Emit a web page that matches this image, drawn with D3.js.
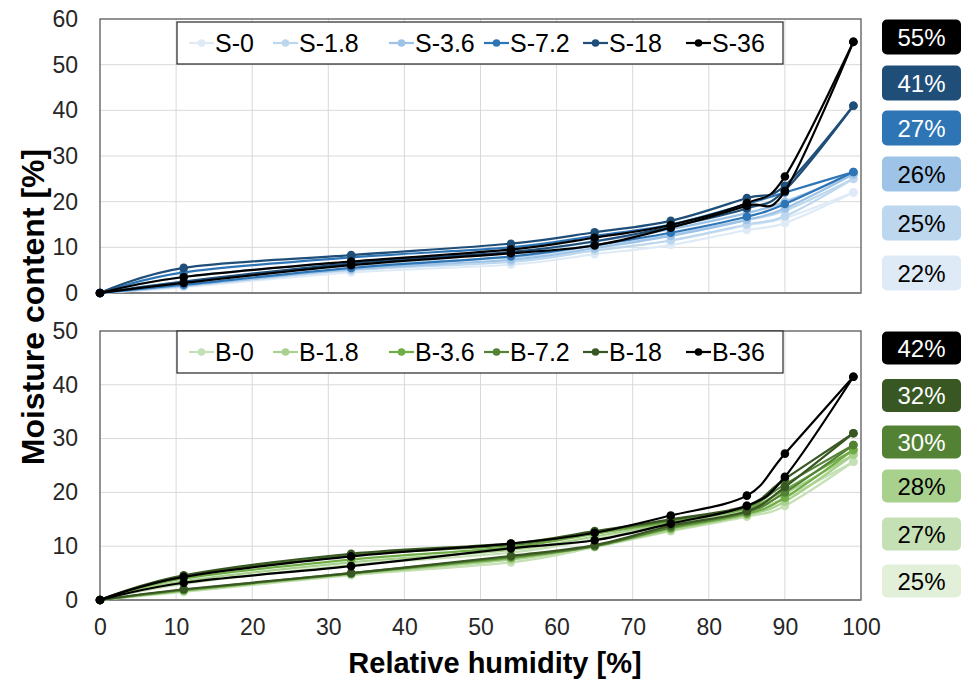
<!DOCTYPE html>
<html><head><meta charset="utf-8">
<script src="https://cdn.jsdelivr.net/npm/d3@7"></script>
<style>body{margin:0;background:#fff}svg{display:block;font-family:Arial,"Liberation Sans",sans-serif}</style>
</head><body><svg id="c" width="965" height="684"></svg>
<script>
const rh = [0, 11, 33, 54, 65, 75, 85, 90, 99];
const xTicks = [0,10,20,30,40,50,60,70,80,90,100];

const sNames = ["S-0","S-1.8","S-3.6","S-7.2","S-18","S-36"];
const sColors = ["#deebf7","#bdd7ee","#9dc3e6","#2e75b6","#1f4e79","#000000"];
const sAds = [
  [0,1.3,4.5,6.2,8.5,10.5,13.8,15.3,22],
  [0,1.5,5.0,6.8,9.3,11.5,15.0,16.8,25],
  [0,1.6,5.2,7.3,9.8,12.5,16.0,18.5,26],
  [0,1.8,5.5,8.0,10.5,13.2,16.7,19.5,26.5],
  [0,2.5,6.5,9.0,11.3,14.5,18.5,22.5,41],
  [0,2.2,6.1,8.7,10.4,14.3,19.1,22.3,55]
];
const sDes = [
  [0,2.0,5.3,7.0,9.3,11.5,14.8,16.4,22],
  [0,2.5,6.0,7.8,10.3,12.8,16.0,18.0,25],
  [0,3.5,6.8,8.8,11.3,14.0,17.5,20.0,26],
  [0,4.5,7.8,10.0,12.5,15.0,19.5,22.0,26.5],
  [0,5.5,8.3,10.8,13.3,15.8,20.8,23.5,41],
  [0,3.5,6.9,9.5,12.1,14.9,19.7,25.5,55]
];
const sLabels = ["22%","25%","26%","27%","41%","55%"];
const sBoxColors = ["#deebf7","#bdd7ee","#9dc3e6","#2e75b6","#1f4e79","#000000"];
const sLabelText = ["#000","#000","#000","#fff","#fff","#fff"];

const bNames = ["B-0","B-1.8","B-3.6","B-7.2","B-18","B-36"];
const bColors = ["#c5e0b4","#a9d18e","#70ad47","#548235","#385723","#000000"];
const bAds = [
  [0,1.5,4.6,7.0,9.8,12.8,15.5,17.5,25.7],
  [0,1.7,4.8,7.5,10.0,13.0,15.8,18.3,27],
  [0,1.8,4.9,7.8,10.0,13.3,16.0,19.0,27.9],
  [0,1.9,5.0,8.0,10.0,13.5,16.3,20.0,28.8],
  [0,2.0,5.0,8.2,10.2,13.8,16.5,21.0,31],
  [0,3.2,6.3,9.6,11.1,14.2,17.5,22.9,41.5]
];
const bDes = [
  [0,3.0,6.5,8.8,11.3,14.0,16.5,19.0,25.7],
  [0,3.5,7.0,9.3,11.8,14.3,16.8,19.8,27],
  [0,4.0,7.5,9.8,12.3,14.5,17.0,20.5,27.9],
  [0,4.4,8.3,10.2,12.6,14.8,17.3,21.5,28.8],
  [0,4.6,8.6,10.5,12.8,15.0,17.5,22.5,31],
  [0,4.3,8.1,10.5,12.5,15.7,19.4,27.2,41.5]
];
const bLabels = ["25%","27%","28%","30%","32%","42%"];
const bBoxColors = ["#e2f0d9","#c5e0b4","#a9d18e","#548235","#385723","#000000"];
const bLabelText = ["#000","#000","#000","#fff","#fff","#fff"];

const topTicks = [0,10,20,30,40,50,60];
const botTicks = [0,10,20,30,40,50];

const svg = d3.select("#c");
const X0 = 100, X1 = 861;
const x = d3.scaleLinear().domain([0,100]).range([X0,X1]);
const legendStarts = [189,273,389,484,583,686];
const FONT = "Arial,'Liberation Sans',sans-serif";

function panel(y0, y1, ymax, yTicks, names, colors, ads, des, labels, boxColors, labelText, boxCenters, boxH, legY, showX) {
  const y = d3.scaleLinear().domain([0,ymax]).range([y1,y0]);
  const g = svg.append("g");
  g.selectAll(".vg").data(xTicks.slice(1,-1)).enter().append("line")
    .attr("x1",d=>x(d)).attr("x2",d=>x(d)).attr("y1",y0).attr("y2",y1)
    .attr("stroke","#d9d9d9").attr("stroke-width",1);
  g.selectAll(".hg").data(yTicks.slice(1,-1)).enter().append("line")
    .attr("x1",X0).attr("x2",X1).attr("y1",d=>y(d)).attr("y2",d=>y(d))
    .attr("stroke","#d9d9d9").attr("stroke-width",1);
  g.append("rect").attr("x",X0).attr("y",y0).attr("width",X1-X0).attr("height",y1-y0)
    .attr("fill","none").attr("stroke","#595959").attr("stroke-width",1.3);
  g.append("line").attr("x1",X0).attr("x2",X1).attr("y1",y1).attr("y2",y1)
    .attr("stroke","#808080").attr("stroke-width",2.2);
  const ya = d3.axisLeft(y).tickValues(yTicks).tickSize(0).tickPadding(22);
  const ag = g.append("g").attr("transform",`translate(${X0},0)`).call(ya);
  ag.select(".domain").remove();
  ag.selectAll("text").attr("font-size",23).attr("fill","#262626").attr("font-family",FONT);
  if (showX) {
    const xa = d3.axisBottom(x).tickValues(xTicks).tickSize(0).tickPadding(19);
    const xg = g.append("g").attr("transform",`translate(0,${y1})`).call(xa);
    xg.select(".domain").remove();
    xg.selectAll("text").attr("font-size",23).attr("fill","#262626").attr("font-family",FONT);
  }
  const line = d3.line().x((d,i)=>x(rh[i])).y(d=>y(d)).curve(d3.curveCardinal.tension(0));
  names.forEach((n,k)=>{
    [ads[k], des[k]].forEach(arr=>{
      g.append("path").attr("d",line(arr)).attr("fill","none")
        .attr("stroke",colors[k]).attr("stroke-width",2.2);
      g.selectAll(null).data(arr).enter().append("circle")
        .attr("cx",(d,i)=>x(rh[i])).attr("cy",d=>y(d)).attr("r",4.3)
        .attr("fill",colors[k]);
    });
  });
  const lg = g.append("g");
  const lx0 = 177, lx1 = 783;
  lg.append("rect").attr("x",lx0).attr("y",legY-21).attr("width",lx1-lx0).attr("height",42)
    .attr("fill","#fff").attr("stroke","#262626").attr("stroke-width",1.2);
  names.forEach((n,k)=>{
    const cx = legendStarts[k];
    lg.append("line").attr("x1",cx).attr("x2",cx+25).attr("y1",legY).attr("y2",legY)
      .attr("stroke",colors[k]).attr("stroke-width",2.2);
    lg.append("circle").attr("cx",cx+12.5).attr("cy",legY).attr("r",3.8).attr("fill",colors[k]);
    lg.append("text").attr("x",cx+26).attr("y",legY).attr("dy","0.36em")
      .attr("font-size",25).attr("fill","#000").text(n);
  });
  labels.forEach((l,k)=>{
    const cy = boxCenters[k];
    g.append("rect").attr("x",882).attr("y",cy-boxH/2).attr("width",79).attr("height",boxH)
      .attr("rx",5).attr("fill",boxColors[k]);
    g.append("text").attr("x",921.5).attr("y",cy).attr("dy","0.36em").attr("text-anchor","middle")
      .attr("font-size",24).attr("fill",labelText[k]).text(l);
  });
}

panel(19, 293, 60, topTicks, sNames, sColors, sAds, sDes, sLabels, sBoxColors, sLabelText,
      [273,223,174,128,83,37], 35, 43, false);
panel(331, 600, 50, botTicks, bNames, bColors, bAds, bDes, bLabels, bBoxColors, bLabelText,
      [581,534,486,442,395.5,348], 33, 352, true);

svg.append("text").attr("x",495).attr("y",673).attr("text-anchor","middle")
  .attr("font-size",29).attr("font-weight","bold").text("Relative humidity [%]");
svg.append("text").attr("transform","translate(44,307) rotate(-90)").attr("text-anchor","middle")
  .attr("font-size",32).attr("font-weight","bold").text("Moisture content [%]");
</script></body></html>
